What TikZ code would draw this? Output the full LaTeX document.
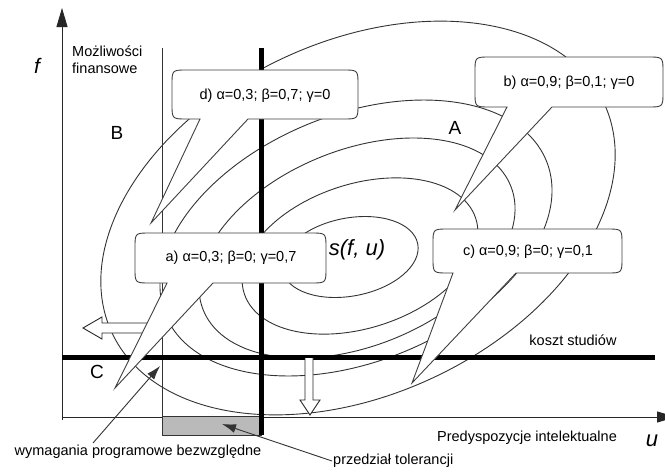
\documentclass[tikz,border=0pt]{standalone}
\usepackage{fontspec}
\setmainfont{Liberation Sans}
\usetikzlibrary{arrows.meta}
\newcommand\mycallout[8]{%
 \draw[callout] ({#1+15},#2) -- ({#3-15},#2) .. controls (#3,#2) .. (#3,{#2+15})
   -- (#3,{#4-15}) .. controls (#3,#4) .. ({#3-15},#4)
   -- (#6,#4) -- (#7,#8) -- (#5,#4)
   -- ({#1+15},#4) .. controls (#1,#4) .. (#1,{#4-15})
   -- (#1,{#2+15}) .. controls (#1,#2) .. ({#1+15},#2) -- cycle;}
\begin{document}
\begin{tikzpicture}[x=1pt,y=-1pt,
  ell/.style={draw=black!80, line width=0.9pt},
  thinln/.style={draw=black!80, line width=0.9pt},
  heavy/.style={draw=black, line width=5pt},
  callout/.style={draw=black!75, fill=white, line width=0.9pt},
  lbl/.style={font=\fontsize{14.5}{17}\selectfont, inner sep=0pt},
  big/.style={font=\fontsize{19}{22}\selectfont, inner sep=0pt},
  hollow/.style={draw=black!85, fill=white, line width=0.9pt},
  ann/.style={draw=black!80, line width=0.9pt, -{Latex[length=14pt,width=9pt]}},
  axis/.style={draw=black!85, line width=0.9pt, -{Triangle[length=19pt,width=11pt]}},
]
\path[use as bounding box] (0,0) rectangle (665,472);
\clip (0,0) rectangle (665,472);
\fill[white] (0,0) rectangle (665,472);

% ellipses (iso-lines of s(f,u))
\draw[ell, rotate around={25:(358,218)}] (358,218) ellipse [x radius=271.5, y radius=176.5];
\draw[ell, rotate around={22:(356,238)}] (356,238) ellipse [x radius=205.4, y radius=123.5];
\draw[ell, rotate around={22:(357,248)}] (357,248) ellipse [x radius=165.8, y radius=97.9];
\draw[ell, rotate around={18:(360,256)}] (360,256) ellipse [x radius=121.7, y radius=72];
\draw[ell, rotate around={11:(350,257)}] (350,257) ellipse [x radius=69, y radius=39];

% axes
\coordinate (O) at (62,417);
\coordinate (ftop) at (62,8);
\coordinate (uend) at (676,417);
\draw[axis] (62,420) -- (ftop);
\draw[axis] (O) -- (uend);

% gray tolerance interval
\draw[thinln, fill=black!27] (162,416) rectangle (261,435);

% thin vertical line
\draw[thinln] (162,48) -- (162,435);
% thick lines
\draw[heavy] (261,48) -- (261,435);
\draw[heavy] (62,357) -- (655,357);

% hollow arrows
\draw[hollow] (152,323) -- (102,323) -- (102,317) -- (83,328) -- (102,339) -- (102,333) -- (152,333);
\draw[hollow] (305,358) -- (305,400) -- (300,400) -- (310,415) -- (320,400) -- (313,400) -- (313,358);

% callouts
\mycallout{172}{70}{358}{119}{200}{248}{151}{223}
\mycallout{475}{57}{663}{107}{507}{552}{455}{210}
\mycallout{135}{233}{326}{283}{167}{213}{115}{388}
\mycallout{433}{229}{622}{273}{453}{516}{412}{383}

\node[lbl] (td) at (265,96) {d) α=0,3; β=0,7; γ=0};
\node[lbl] (tb) at (569,83) {b) α=0,9; β=0,1; γ=0};
\node[lbl] (ta) at (231,258) {a) α=0,3; β=0; γ=0,7};
\node[lbl] (tc) at (528,252) {c) α=0,9; β=0; γ=0,1};

% labels
\node[lbl, anchor=north west, align=left] (mozl) at (72,46) {Możliwości\\finansowe};
\node[font=\fontsize{21}{24}\selectfont\itshape, inner sep=0pt] (flab) at (37,66) {f};
\node[font=\fontsize{22}{24}\selectfont\itshape, inner sep=0pt] (ulab) at (652,441) {u};
\node[big] (B) at (117,133) {B};
\node[big] (A) at (455,128) {A};
\node[big] (C) at (97,372) {C};
\node[font=\fontsize{22}{24}\selectfont\itshape, inner sep=0pt] (s) at (357,250) {s(f, u)};
\node[lbl] (koszt) at (573,340) {koszt studiów};
\node[lbl] (pred) at (527,438) {Predyspozycje intelektualne};
\node[lbl] (wym) at (138,452) {wymagania programowe bezwzględne};
\node[lbl, anchor=west] (prz) at (333,461) {przedział tolerancji};

% annotation arrows
\coordinate (wstart) at (93,443);
\coordinate (wtip) at (160,366);
\coordinate (pstart) at (332,461);
\coordinate (ptip) at (222,424);
\draw[ann] (wstart) -- (wtip);
\draw[ann] (pstart) -- (ptip);
\end{tikzpicture}
\end{document}
